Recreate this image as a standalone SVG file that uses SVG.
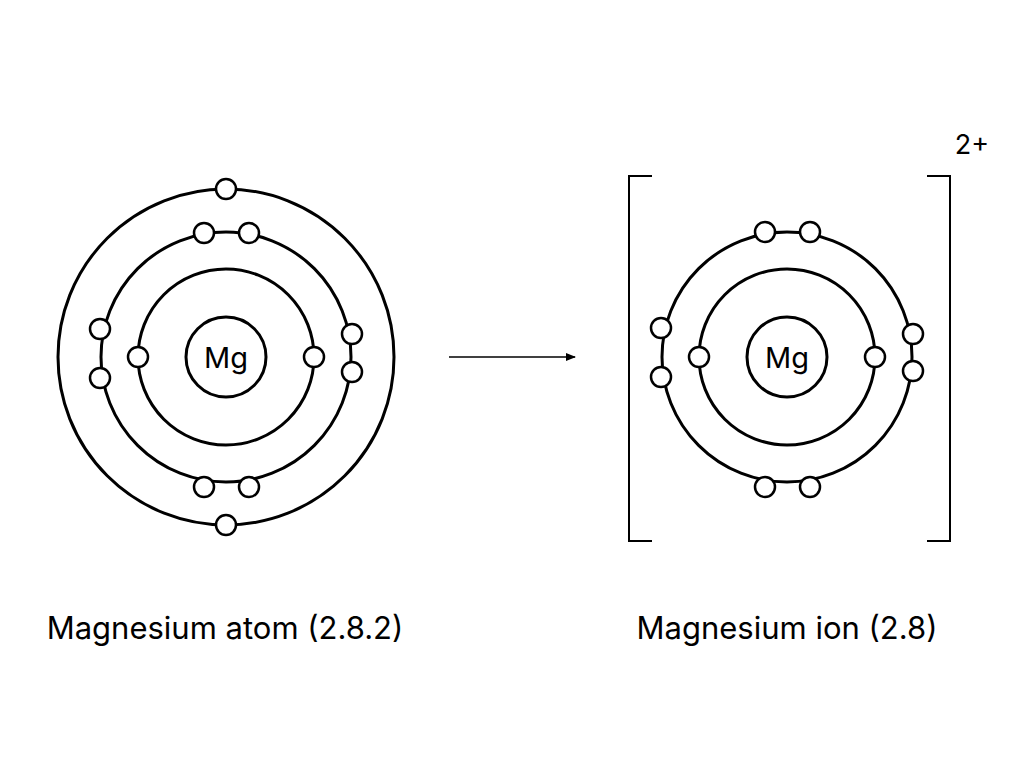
<svg xmlns="http://www.w3.org/2000/svg" width="1024" height="768" viewBox="0 0 1024 768">
<defs>
<style>
.s{fill:none;stroke:#000;stroke-width:3}
.e{fill:#fff;stroke:#000;stroke-width:2.5}
.t{font-family:Inter,"Liberation Sans",sans-serif;fill:#000}
</style>
<marker id="a" markerWidth="10" markerHeight="8" refX="9" refY="4" orient="auto" markerUnits="userSpaceOnUse"><path d="M0,0 L10,4 L0,8 Z"/></marker>
</defs>
<rect width="1024" height="768" fill="#fff"/>
<g id="atom">
<circle class="s" cx="226" cy="357" r="40"/>
<text class="t" x="226" y="368" font-size="29" text-anchor="middle">Mg</text>
<circle class="s" cx="226" cy="357" r="88"/>
<circle class="s" cx="226" cy="357" r="125"/>
<circle class="s" cx="226" cy="357" r="168"/>
<circle class="e" cx="138" cy="357" r="10"/><circle class="e" cx="314" cy="357" r="10"/>
<circle class="e" cx="204" cy="233" r="10"/><circle class="e" cx="249" cy="233" r="10"/>
<circle class="e" cx="204" cy="487" r="10"/><circle class="e" cx="249" cy="487" r="10"/>
<circle class="e" cx="100" cy="329" r="10"/><circle class="e" cx="100" cy="378" r="10"/>
<circle class="e" cx="352" cy="334" r="10"/><circle class="e" cx="352" cy="372" r="10"/>
<circle class="e" cx="226" cy="189" r="10"/><circle class="e" cx="226" cy="525" r="10"/>
</g>
<g id="ion">
<circle class="s" cx="787" cy="357" r="40"/>
<text class="t" x="787" y="368" font-size="29" text-anchor="middle">Mg</text>
<circle class="s" cx="787" cy="357" r="88"/>
<circle class="s" cx="787" cy="357" r="125"/>
<circle class="e" cx="699" cy="357" r="10"/><circle class="e" cx="875" cy="357" r="10"/>
<circle class="e" cx="765" cy="232" r="10"/><circle class="e" cx="810" cy="232" r="10"/>
<circle class="e" cx="765" cy="487" r="10"/><circle class="e" cx="810" cy="487" r="10"/>
<circle class="e" cx="661" cy="328" r="10"/><circle class="e" cx="661" cy="377" r="10"/>
<circle class="e" cx="913" cy="334" r="10"/><circle class="e" cx="913" cy="371" r="10"/>
<path d="M652,176 H629 V541 H652 M927,176 H950 V541 H927" fill="none" stroke="#000" stroke-width="2"/>
<text class="t" x="972" y="154" font-size="27" text-anchor="middle">2+</text>
</g>
<g id="connectors">
<line x1="449" y1="357" x2="575" y2="357" stroke="#000" stroke-width="1.5" marker-end="url(#a)"/>
</g>
<text class="t" x="225" y="639" font-size="31" text-anchor="middle">Magnesium atom (2.8.2)</text>
<text class="t" x="787" y="639" font-size="31" text-anchor="middle">Magnesium ion (2.8)</text>
</svg>
